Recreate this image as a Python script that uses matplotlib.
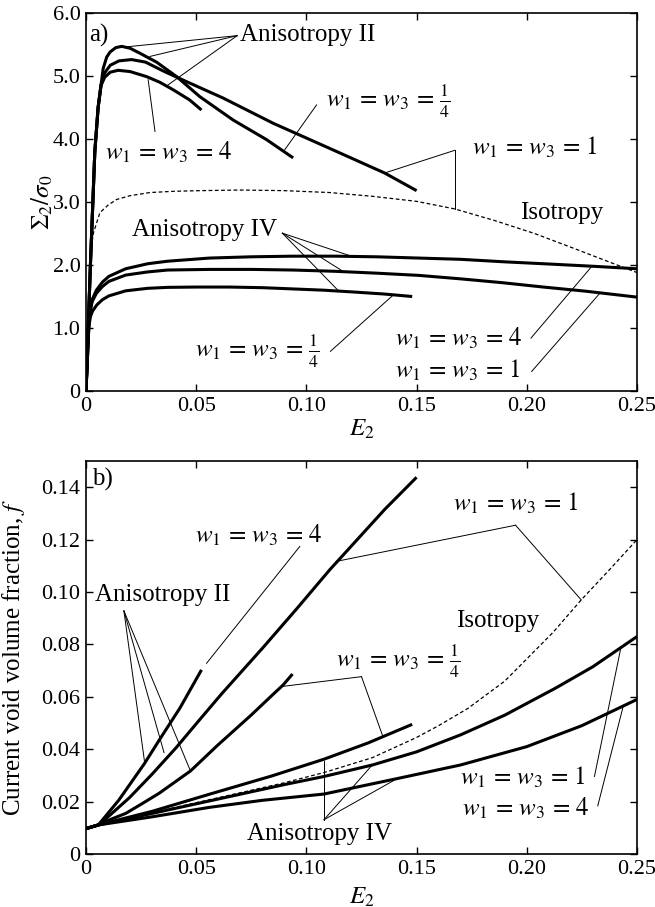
import matplotlib
matplotlib.use('Agg')
import matplotlib.pyplot as plt

plt.rcParams['font.family'] = ['Liberation Serif', 'DejaVu Serif']
plt.rcParams['mathtext.fontset'] = 'stix'

# ---- panel a) : Sigma_2 / sigma_0 vs E_2 ----
# Anisotropy II
a_II_w4_x = [0, 0.002, 0.004, 0.0055, 0.0068, 0.0085, 0.011, 0.0146, 0.020, 0.0275, 0.0335, 0.0396, 0.047, 0.0524]
a_II_w4_y = [0, 2.0, 3.8, 4.5, 4.85, 4.98, 5.06, 5.09, 5.07, 4.99, 4.90, 4.78, 4.62, 4.46]
a_II_w1_x = [0, 0.002, 0.004, 0.0055, 0.0068, 0.0085, 0.011, 0.015, 0.0207, 0.027, 0.035, 0.045, 0.0622, 0.0849, 0.1106, 0.1355, 0.15]
a_II_w1_y = [0, 2.0, 3.8, 4.5, 4.85, 5.05, 5.17, 5.24, 5.26, 5.22, 5.08, 4.92, 4.65, 4.25, 3.85, 3.46, 3.18]
a_II_wq_x = [0, 0.002, 0.004, 0.0055, 0.0068, 0.0078, 0.0094, 0.0109, 0.0135, 0.0162, 0.020, 0.0245, 0.032, 0.0411, 0.0517, 0.0668, 0.0819, 0.094]
a_II_wq_y = [0, 2.0, 3.8, 4.5, 4.85, 5.12, 5.30, 5.38, 5.45, 5.47, 5.44, 5.36, 5.22, 4.99, 4.67, 4.30, 3.99, 3.70]
# Anisotropy IV
a_IV_w4_x = [0, 0.0015, 0.0028, 0.0047, 0.0075, 0.0104, 0.018, 0.028, 0.037, 0.056, 0.075, 0.0938, 0.113, 0.132, 0.151, 0.17, 0.19, 0.2075, 0.23, 0.25]
a_IV_w4_y = [0, 1.2, 1.45, 1.6, 1.73, 1.82, 1.94, 2.02, 2.06, 2.11, 2.13, 2.14, 2.14, 2.13, 2.11, 2.09, 2.05, 2.02, 1.98, 1.94]
a_IV_w1_x = [0, 0.0015, 0.0028, 0.0047, 0.0075, 0.0104, 0.018, 0.028, 0.037, 0.056, 0.075, 0.094, 0.113, 0.132, 0.151, 0.17, 0.1886, 0.2075, 0.2265, 0.25]
a_IV_w1_y = [0, 1.2, 1.42, 1.55, 1.66, 1.74, 1.84, 1.89, 1.92, 1.93, 1.93, 1.92, 1.90, 1.87, 1.835, 1.78, 1.72, 1.65, 1.585, 1.49]
a_IV_wq_x = [0, 0.0012, 0.002, 0.003, 0.005, 0.0075, 0.0104, 0.018, 0.028, 0.037, 0.05, 0.065, 0.08, 0.094, 0.108, 0.122, 0.135, 0.148]
a_IV_wq_y = [0, 1.0, 1.18, 1.27, 1.37, 1.45, 1.51, 1.59, 1.63, 1.645, 1.65, 1.65, 1.64, 1.62, 1.60, 1.57, 1.54, 1.50]
# Isotropy
a_iso_x = [0, 0.0022, 0.0033, 0.0063, 0.010, 0.0139, 0.02, 0.029, 0.04, 0.0517, 0.07, 0.09, 0.1106, 0.13, 0.15, 0.1673, 0.185, 0.2035, 0.2209, 0.235, 0.25]
a_iso_y = [0, 2.2, 2.5, 2.83, 2.95, 3.04, 3.10, 3.15, 3.17, 3.18, 3.19, 3.18, 3.15, 3.09, 3.01, 2.89, 2.71, 2.50, 2.27, 2.08, 1.88]

# ---- panel b) : void volume fraction f vs E_2 ----
b_II_w4_x = [0, 0.0056, 0.0149, 0.0265, 0.034, 0.0426, 0.0477, 0.0524]
b_II_w4_y = [0.0097, 0.0111, 0.0206, 0.0345, 0.0445, 0.0557, 0.0633, 0.0703]
b_II_w1_x = [0, 0.0056, 0.01, 0.0197, 0.03, 0.0408, 0.0525, 0.0616, 0.08, 0.0955, 0.1106, 0.1355, 0.15]
b_II_w1_y = [0.0097, 0.0111, 0.0142, 0.0215, 0.0305, 0.0405, 0.0522, 0.0612, 0.0785, 0.0935, 0.1085, 0.1315, 0.1438]
b_II_wq_x = [0, 0.0056, 0.012, 0.018, 0.025, 0.0332, 0.0474, 0.0597, 0.0749, 0.0852, 0.0894, 0.0937]
b_II_wq_y = [0.0097, 0.0111, 0.0135, 0.0155, 0.019, 0.0232, 0.0317, 0.0415, 0.053, 0.0612, 0.0645, 0.0687]
b_IV_wq_x = [0, 0.0056, 0.03, 0.0559, 0.0843, 0.108, 0.128, 0.148]
b_IV_wq_y = [0.0097, 0.0111, 0.0163, 0.0228, 0.0298, 0.0362, 0.0424, 0.0495]
b_IV_w1_x = [0, 0.0056, 0.03, 0.06, 0.09, 0.108, 0.13, 0.15, 0.17, 0.19, 0.213, 0.23, 0.25]
b_IV_w1_y = [0.0097, 0.0111, 0.0155, 0.021, 0.0265, 0.0296, 0.034, 0.039, 0.0455, 0.053, 0.0633, 0.0715, 0.083]
b_IV_w4_x = [0, 0.0056, 0.03, 0.0559, 0.08, 0.108, 0.1412, 0.17, 0.2, 0.225, 0.25]
b_IV_w4_y = [0.0097, 0.0111, 0.0142, 0.0178, 0.0205, 0.0229, 0.0288, 0.034, 0.041, 0.049, 0.059]
b_iso_x = [0, 0.0056, 0.03, 0.06, 0.09, 0.108, 0.13, 0.15, 0.16, 0.1733, 0.19, 0.2118, 0.2247, 0.2375, 0.25]
b_iso_y = [0.0097, 0.0111, 0.0158, 0.0215, 0.0272, 0.0311, 0.0368, 0.0445, 0.049, 0.0556, 0.066, 0.0845, 0.097, 0.1085, 0.12]

x_ticks = [0, 0.05, 0.10, 0.15, 0.20, 0.25]
x_ticklabels = ['0', '0.05', '0.10', '0.15', '0.20', '0.25']
a_yticks = [0, 1, 2, 3, 4, 5, 6]
a_yticklabels = ['0', '1.0', '2.0', '3.0', '4.0', '5.0', '6.0']
b_yticks = [0, 0.02, 0.04, 0.06, 0.08, 0.10, 0.12, 0.14]
b_yticklabels = ['0', '0.02', '0.04', '0.06', '0.08', '0.10', '0.12', '0.14']

W4 = r'$w_1\,=\,w_3\,=\,4$'
W1 = r'$w_1\,=\,w_3\,=\,1$'
WQ = r'$w_1\,=\,w_3\,=\,\frac{1}{4}$'

THICK = 2.2
THIN = 0.7
FS = 18


def pointer(ax, start, ends):
    # thin leader lines from a label to the curves
    for e in ends:
        ax.plot([start[0], e[0]], [start[1], e[1]], color='black', lw=THIN)


def style(ax, yticks, yticklabels, ylim):
    ax.set_xlim(0, 0.25)
    ax.set_ylim(*ylim)
    ax.set_xticks(x_ticks)
    ax.set_xticklabels(x_ticklabels)
    ax.set_yticks(yticks)
    ax.set_yticklabels(yticklabels)
    ax.tick_params(direction='in', top=True, right=True, length=5, width=1,
                   labelsize=16, pad=4)
    for s in ax.spines.values():
        s.set_linewidth(1.2)
    ax.set_xlabel(r'$E_2$', fontsize=FS)


fig = plt.figure(figsize=(6.55, 9.07), dpi=100)
ax1 = fig.add_axes([0.1313, 0.5689, 0.8412, 0.4168])
ax2 = fig.add_axes([0.1313, 0.0584, 0.8412, 0.4333])

# panel a
for xs, ys in [(a_II_w4_x, a_II_w4_y), (a_II_w1_x, a_II_w1_y), (a_II_wq_x, a_II_wq_y),
               (a_IV_w4_x, a_IV_w4_y), (a_IV_w1_x, a_IV_w1_y), (a_IV_wq_x, a_IV_wq_y)]:
    ax1.plot(xs, ys, color='black', lw=THICK, solid_capstyle='butt')
ax1.plot(a_iso_x, a_iso_y, color='black', lw=0.9, linestyle=(0, (3, 2)))
style(ax1, a_yticks, a_yticklabels, (0, 6))
ax1.set_ylabel(r'$\Sigma_2/\sigma_0$', fontsize=FS)
ax1.yaxis.set_label_coords(-0.056, 0.5)
ax1.xaxis.set_label_coords(0.5, -0.07)

ax1.text(0.0015, 5.64, 'a)', fontsize=FS, va='center')
ax1.text(0.0700, 5.65, 'Anisotropy II', fontsize=FS, va='center')
pointer(ax1, (0.0686, 5.64), [(0.0177, 5.46), (0.029, 5.31), (0.0373, 4.86)])
ax1.text(0.0086, 3.78, W4, fontsize=FS, va='center')
pointer(ax1, (0.0313, 4.12), [(0.0282, 4.94)])
ax1.text(0.109, 4.59, WQ, fontsize=FS, va='center')
pointer(ax1, (0.1046, 4.54), [(0.0902, 3.83)])
ax1.text(0.175, 3.87, W1, fontsize=FS, va='center')
pointer(ax1, (0.1673, 3.82), [(0.1355, 3.46), (0.1673, 2.89)])
ax1.text(0.197, 2.83, 'Isotropy', fontsize=FS, va='center')
ax1.text(0.0209, 2.55, 'Anisotropy IV', fontsize=FS, va='center')
pointer(ax1, (0.0891, 2.505), [(0.1204, 2.14), (0.1175, 1.88), (0.1147, 1.585)])
ax1.text(0.0493, 0.63, WQ, fontsize=FS, va='center')
pointer(ax1, (0.1109, 0.63), [(0.1393, 1.52)])
ax1.text(0.140, 0.84, W4, fontsize=FS, va='center')
pointer(ax1, (0.2019, 0.84), [(0.2293, 1.97)])
ax1.text(0.140, 0.335, W1, fontsize=FS, va='center')
pointer(ax1, (0.2022, 0.31), [(0.2331, 1.55)])

# panel b
for xs, ys in [(b_II_w4_x, b_II_w4_y), (b_II_w1_x, b_II_w1_y), (b_II_wq_x, b_II_wq_y),
               (b_IV_wq_x, b_IV_wq_y), (b_IV_w1_x, b_IV_w1_y), (b_IV_w4_x, b_IV_w4_y)]:
    ax2.plot(xs, ys, color='black', lw=THICK, solid_capstyle='butt')
ax2.plot(b_iso_x, b_iso_y, color='black', lw=0.9, linestyle=(0, (3, 2)))
style(ax2, b_yticks, b_yticklabels, (0, 0.15))
ax2.set_ylabel(r'Current void volume fraction, $f$', fontsize=FS)
ax2.yaxis.set_label_coords(-0.107, 0.5)
ax2.xaxis.set_label_coords(0.5, -0.08)

ax2.text(0.0026, 0.1428, 'b)', fontsize=FS, va='center')
ax2.text(0.0494, 0.1218, W4, fontsize=FS, va='center')
pointer(ax2, (0.097, 0.1174), [(0.0547, 0.0728)])
ax2.text(0.0041, 0.0989, 'Anisotropy II', fontsize=FS, va='center')
pointer(ax2, (0.0172, 0.0928), [(0.0265, 0.0356), (0.0354, 0.0387), (0.0474, 0.0317)])
ax2.text(0.1664, 0.134, W1, fontsize=FS, va='center')
pointer(ax2, (0.1949, 0.1255), [(0.1136, 0.1117), (0.2247, 0.097)])
ax2.text(0.168, 0.089, 'Isotropy', fontsize=FS, va='center')
ax2.text(0.1136, 0.0736, WQ, fontsize=FS, va='center')
pointer(ax2, (0.125, 0.0677), [(0.0894, 0.064), (0.1346, 0.0451)])
ax2.text(0.1696, 0.0292, W1, fontsize=FS, va='center')
pointer(ax2, (0.2307, 0.0296), [(0.2428, 0.0792)])
ax2.text(0.1706, 0.0174, W4, fontsize=FS, va='center')
pointer(ax2, (0.2322, 0.0184), [(0.2436, 0.0559)])
ax2.text(0.073, 0.0076, 'Anisotropy IV', fontsize=FS, va='center')
pointer(ax2, (0.108, 0.0131), [(0.108, 0.0356), (0.1298, 0.0339), (0.1412, 0.0288)])

fig.savefig('out.png', dpi=100)
